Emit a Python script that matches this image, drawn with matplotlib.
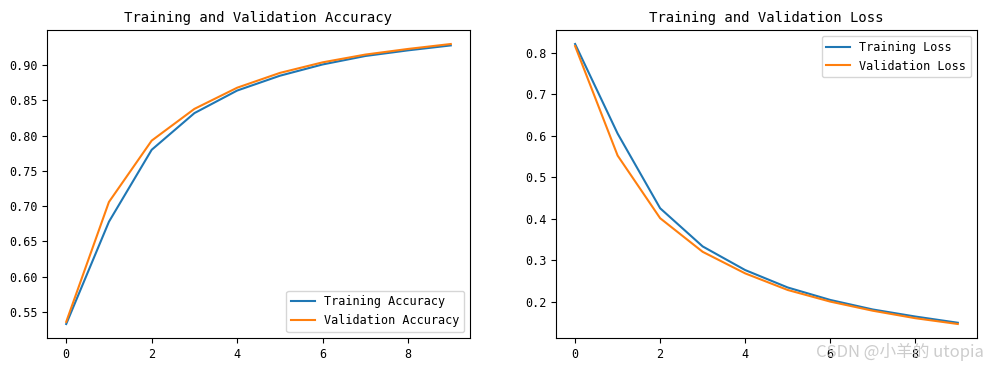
import matplotlib
matplotlib.use("Agg")
import matplotlib.pyplot as plt

plt.rcParams["font.family"] = ["DejaVu Sans Mono", "Noto Sans CJK SC"]
plt.rcParams["axes.unicode_minus"] = False

epochs = list(range(10))
train_acc = [0.533, 0.678, 0.780, 0.832, 0.864, 0.885, 0.901, 0.913, 0.921, 0.928]
val_acc = [0.536, 0.706, 0.793, 0.838, 0.868, 0.889, 0.904, 0.915, 0.923, 0.930]
train_loss = [0.821, 0.605, 0.425, 0.333, 0.276, 0.234, 0.204, 0.181, 0.164, 0.149]
val_loss = [0.816, 0.552, 0.401, 0.320, 0.268, 0.228, 0.200, 0.178, 0.160, 0.146]

fig = plt.figure(figsize=(9.87, 3.7), dpi=100)
ax1 = fig.add_axes([0.0476, 0.0865, 0.4286, 0.8324])
ax2 = fig.add_axes([0.5633, 0.0865, 0.4265, 0.8324])

ax1.plot(epochs, train_acc, label="Training Accuracy")
ax1.plot(epochs, val_acc, label="Validation Accuracy")
ax1.legend(loc="lower right", fontsize=8.5)
ax1.set_title("Training and Validation Accuracy", fontsize=10)

ax2.plot(epochs, train_loss, label="Training Loss")
ax2.plot(epochs, val_loss, label="Validation Loss")
ax2.legend(loc="upper right", fontsize=8.5)
ax2.set_title("Training and Validation Loss", fontsize=10)

for ax in (ax1, ax2):
    ax.tick_params(labelsize=8.5)

# watermark from the source image
fig.text(0.997, 0.048, "CSDN @小羊的 utopia", ha="right", va="center",
         fontsize=12, color="#c4c4c4", alpha=0.85,
         family=["Noto Sans CJK SC", "DejaVu Sans"])

fig.savefig("out.png", dpi=100)
